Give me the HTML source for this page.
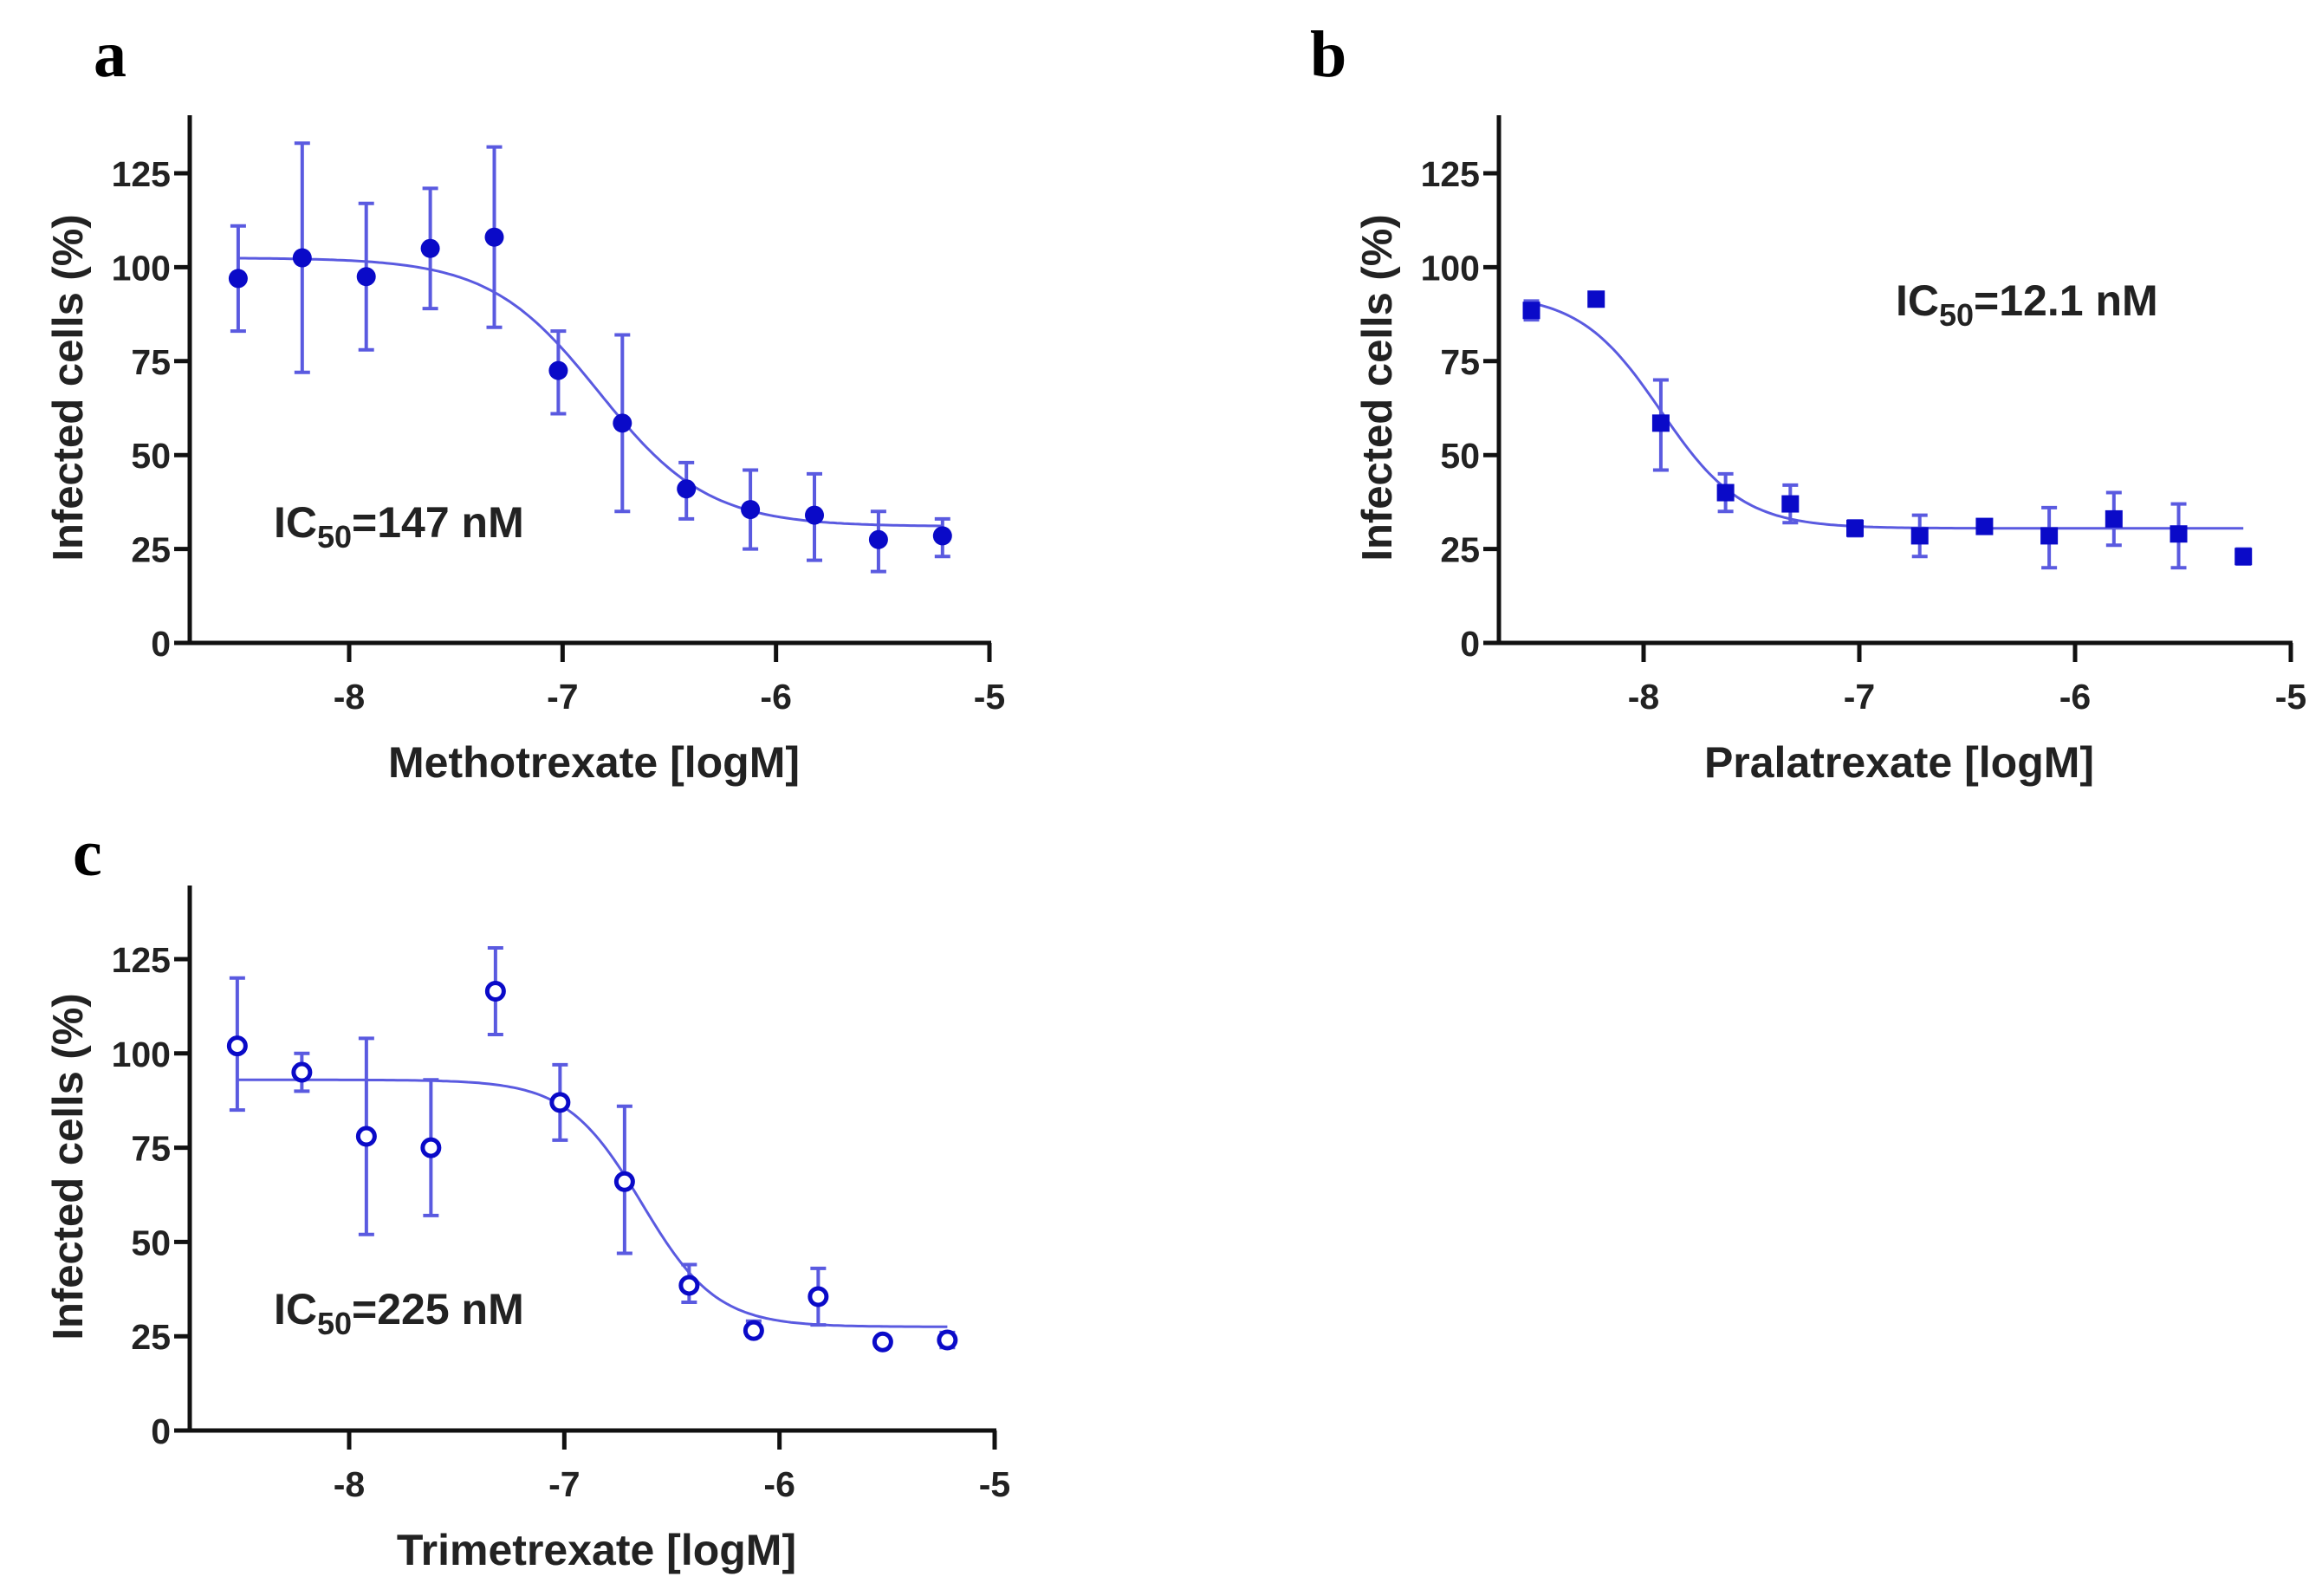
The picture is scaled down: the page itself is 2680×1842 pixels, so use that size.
<!DOCTYPE html>
<html><head><meta charset="utf-8">
<style>
html,body{margin:0;padding:0;background:#fff;}
svg{display:block;font-family:"Liberation Sans",Arial,sans-serif;}
</style></head>
<body>
<svg id="fig" width="2680" height="1842" viewBox="0 0 2680 1842" xmlns="http://www.w3.org/2000/svg">
<text x="108" y="88" font-family="Liberation Serif,serif" font-weight="bold" font-size="76">a</text>
<text x="1512" y="88" font-family="Liberation Serif,serif" font-weight="bold" font-size="76">b</text>
<text x="84" y="1010" font-family="Liberation Serif,serif" font-weight="bold" font-size="76">c</text>
</svg>
<script>
// shared x positions (log M)
const logDose = [-8.52,-8.22,-7.92,-7.62,-7.32,-7.02,-6.72,-6.42,-6.12,-5.82,-5.52,-5.22];
const yTicks = [0,25,50,75,100,125];
const xTicks = [-8,-7,-6,-5];
// panel a: methotrexate
const mtxMean = [97,102.5,97.5,105,108,72.5,58.5,41,35.5,34,27.5,28.5];
const mtxLow  = [83,72,78,89,84,61,35,33,25,22,19,23];
const mtxHigh = [111,133,117,121,132,83,82,48,46,45,35,33];
const mtxFit  = [102.5,31,-6.83,1.7]; // top, bottom, logIC50, hill
// panel b: pralatrexate
const prlMean = [88.5,91.5,58.5,40,37,30.5,28.5,31,28.5,33,29,23];
const prlLow  = [86,90,46,35,32,28.5,23,30,20,26,20,21];
const prlHigh = [91,93,70,45,42,32.5,34,32,36,40,37,25];
const prlFit  = [93,30.5,-7.92,2.3];
// panel c: trimetrexate
const tmxMean = [102,95,78,75,116.5,87,66,38.5,26.5,35.5,23.5,24];
const tmxLow  = [85,90,52,57,105,77,47,34,25,28,22.5,22];
const tmxHigh = [120,100,104,93,128,97,86,44,29,43,24.5,26];
const tmxFit  = [93,27.5,-6.64,2.5];

const NS="http://www.w3.org/2000/svg";
const svg=document.getElementById('fig');
function mk(tag,attrs,parent){const e=document.createElementNS(NS,tag);for(const k in attrs)e.setAttribute(k,attrs[k]);(parent||svg).appendChild(e);return e;}
const BLUE="#0a0ac8", LINE="#5a5ae0";

function panel(o){
  const g=mk('g',{});
  
  
  const X=v=>o.x0+(v-(-8))*(o.x5-o.x0)/3;
  const Y=v=>o.y0-v*(o.y0-o.y125)/125;
  const ya=mk('line',{x1:o.ax,y1:o.top,x2:o.ax,y2:o.y0+2,stroke:'#111','stroke-width':5},g);
  
  
  const xa=mk('line',{x1:o.ax-18,y1:o.y0,x2:X(-5)+2,y2:o.y0,stroke:'#111','stroke-width':5},g);
  
  
  yTicks.forEach(t=>{
    mk('line',{x1:o.ax-18,y1:Y(t),x2:o.ax,y2:Y(t),stroke:'#111','stroke-width':5},g);
    const tl=mk('text',{x:o.ax-22,y:Y(t)+15,'text-anchor':'end','font-size':41,'font-weight':'bold',fill:'#222'},g);
    tl.textContent=t;
    
    
  });
  xTicks.forEach(t=>{
    mk('line',{x1:X(t),y1:o.y0,x2:X(t),y2:o.y0+22,stroke:'#111','stroke-width':5},g);
    const tl=mk('text',{x:X(t),y:o.y0+76,'text-anchor':'middle','font-size':41,'font-weight':'bold',fill:'#222'},g);
    tl.textContent=t;
    
    
  });
  const xt=mk('text',{x:(o.ax+X(-5))/2+5,y:o.y0+155,'text-anchor':'middle','font-size':50,'font-weight':'bold',fill:'#222'},g);
  xt.textContent=o.xtitle;
  
  
  const yc=(o.top+o.y0)/2+10;
  const yt=mk('text',{x:0,y:0,transform:`translate(${o.ax-124},${yc}) rotate(-90)`,'text-anchor':'middle','font-size':49,'font-weight':'bold',fill:'#222'},g);
  yt.textContent='Infected cells (%)';
  
  
  const [top,bot,ic,h]=o.fit;
  let d='';
  for(let i=0;i<=200;i++){const lx=logDose[0]+(logDose[11]-logDose[0])*i/200;const v=bot+(top-bot)/(1+Math.pow(10,(lx-ic)*h));d+=(i?'L':'M')+X(lx).toFixed(1)+','+Y(v).toFixed(1);}
  const c=mk('path',{d:d,fill:'none',stroke:LINE,'stroke-width':3},g);
  
  
  logDose.forEach((lx,i)=>{
    const x=X(lx);
    const eb=mk('path',{d:`M${x},${Y(o.lo[i])}V${Y(o.hi[i])}M${x-9},${Y(o.lo[i])}h18M${x-9},${Y(o.hi[i])}h18`,stroke:LINE,'stroke-width':4,fill:'none'},g);
    
    
    let p;
    if(o.marker==='circle') p=mk('circle',{cx:x,cy:Y(o.mean[i]),r:11,fill:BLUE},g);
    else if(o.marker==='square') p=mk('rect',{x:x-10,y:Y(o.mean[i])-10,width:20,height:20,fill:BLUE},g);
    else p=mk('circle',{cx:x,cy:Y(o.mean[i]),r:9.5,fill:'#fff',stroke:BLUE,'stroke-width':5},g);
    
    
  });
  const ict=mk('text',{x:o.icx,y:o.icy,'font-size':50,'font-weight':'bold',fill:'#222'},g);
  
  
  ict.innerHTML='IC<tspan font-size="36" dy="12">50</tspan><tspan dy="-12">='+o.ictext+'</tspan>';
}
panel({name:'panel-a-methotrexate',ax:219,top:133,y0:742,y125:200,x0:403,x5:1142,mean:mtxMean,lo:mtxLow,hi:mtxHigh,fit:mtxFit,marker:'circle',xtitle:'Methotrexate [logM]',icx:316,icy:620,ictext:'147 nM'});
panel({name:'panel-b-pralatrexate',ax:1730,top:133,y0:742,y125:200,x0:1897,x5:2644,mean:prlMean,lo:prlLow,hi:prlHigh,fit:prlFit,marker:'square',xtitle:'Pralatrexate [logM]',icx:2188,icy:364,ictext:'12.1 nM'});
panel({name:'panel-c-trimetrexate',ax:219,top:1022,y0:1651,y125:1107,x0:403,x5:1148,mean:tmxMean,lo:tmxLow,hi:tmxHigh,fit:tmxFit,marker:'open',xtitle:'Trimetrexate [logM]',icx:316,icy:1528,ictext:'225 nM'});
</script>
</body></html>
